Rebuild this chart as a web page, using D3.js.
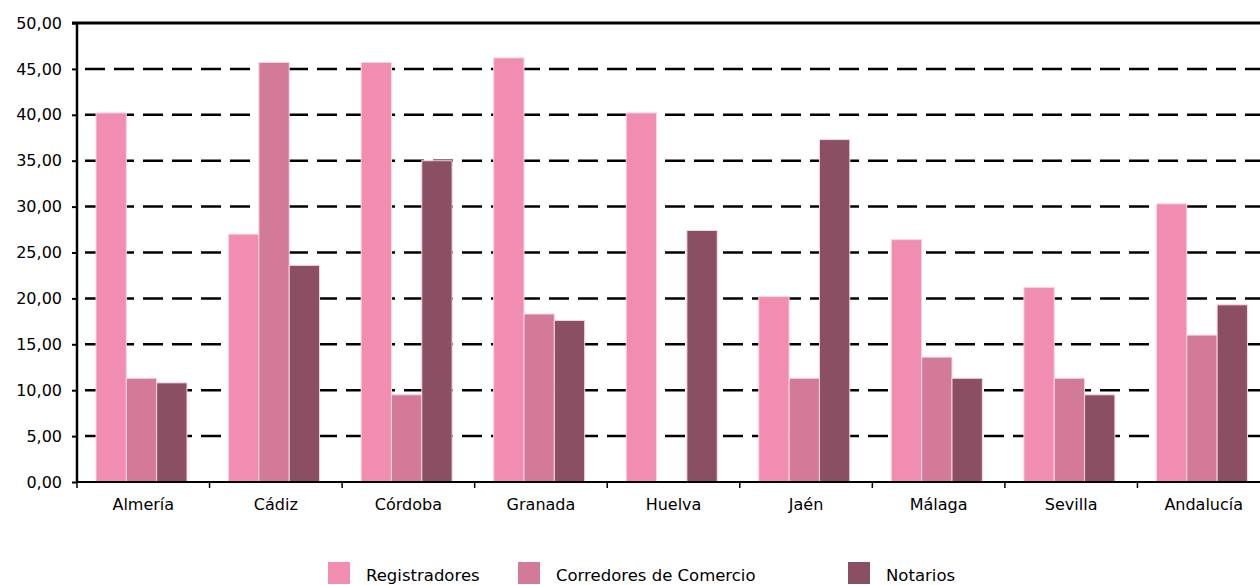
<!DOCTYPE html>
<html>
<head>
<meta charset="utf-8">
<script src="https://cdn.jsdelivr.net/npm/d3@7"></script>
<style>
  body { margin: 0; background: #fff; }
  svg { display: block; font-family: "DejaVu Sans", sans-serif; }
</style>
</head>
<body>
<div id="chart"></div>
<script>
// data
var categories = ["Almería", "Cádiz", "Córdoba", "Granada", "Huelva", "Jaén", "Málaga", "Sevilla", "Andalucía"];
var series = ["Registradores", "Corredores de Comercio", "Notarios"];
var registradores = [40.2, 27.0, 45.7, 46.2, 40.2, 20.2, 26.4, 21.2, 30.3];
var corredores = [11.3, 45.7, 9.5, 18.3, 0, 11.3, 13.6, 11.3, 16.0];
var notarios = [10.8, 23.6, 35.0, 17.6, 27.4, 37.3, 11.3, 9.5, 19.3];
var yTicks = [0, 5, 10, 15, 20, 25, 30, 35, 40, 45, 50];
var colors = ["#f28db2", "#d27a98", "#8a4f63"];

var values = [registradores, corredores, notarios];
var W = 1260, H = 585;
var plotLeft = 77, plotTop = 23, plotBottom = 482, plotRight = 1270;
var fontFam = "'DejaVu Sans', sans-serif";

var svg = d3.select("#chart").append("svg")
    .attr("width", W).attr("height", H);

var x0 = d3.scaleBand().domain(categories).range([plotLeft, plotRight]).padding(0);
var x1 = d3.scaleBand().domain(series).range([19, 110]).padding(0);
var y = d3.scaleLinear().domain([0, 50]).range([plotBottom, plotTop]);

// dashed grid
svg.append("g").selectAll("line")
    .data(yTicks.filter(function(d) { return d > 0 && d < 50; }))
    .enter().append("line")
    .attr("x1", plotLeft).attr("x2", W)
    .attr("y1", function(d) { return y(d); })
    .attr("y2", function(d) { return y(d); })
    .style("stroke", "#000")
    .style("stroke-width", 2.5)
    .style("stroke-dasharray", "20,9")
    .style("stroke-dashoffset", -8);

// bars
var groups = svg.append("g").selectAll("g")
    .data(categories)
    .enter().append("g")
    .attr("transform", function(d) { return "translate(" + x0(d) + ",0)"; });

groups.selectAll("rect")
    .data(function(c, i) {
        return series.map(function(s, j) { return {s: s, v: values[j][i], j: j}; })
            .filter(function(d) { return d.v > 0; });
    })
    .enter().append("rect")
    .attr("x", function(d) { return x1(d.s); })
    .attr("width", x1.bandwidth())
    .attr("y", function(d) { return y(d.v); })
    .attr("height", function(d) { return plotBottom - y(d.v); })
    .style("fill", function(d) { return colors[d.j]; })
    .style("stroke", "#f7d6e2")
    .style("stroke-width", 1);

// y axis
var yAxis = d3.axisLeft(y)
    .tickValues(yTicks)
    .tickSize(5)
    .tickFormat(function(d) { return d3.format(".2f")(d).replace(".", ","); });

var gy = svg.append("g")
    .attr("transform", "translate(" + plotLeft + ",0)")
    .call(yAxis);
gy.select(".domain").remove();
gy.selectAll("line").style("stroke", "#000").style("stroke-width", 2);
gy.selectAll("text")
    .attr("x", -15)
    .style("font-size", "16px")
    .style("fill", "#000")
    .style("font-family", fontFam);

svg.append("line")
    .attr("x1", plotLeft).attr("x2", plotLeft)
    .attr("y1", plotTop - 1).attr("y2", plotBottom + 1)
    .style("stroke", "#000").style("stroke-width", 2.5);

// top border
svg.append("line")
    .attr("x1", plotLeft - 5).attr("x2", W)
    .attr("y1", plotTop).attr("y2", plotTop)
    .style("stroke", "#000").style("stroke-width", 3);

// x axis
var xAxis = d3.axisBottom(x0).tickSize(0).tickPadding(17);
var gx = svg.append("g")
    .attr("transform", "translate(0," + plotBottom + ")")
    .call(xAxis);
gx.select(".domain").remove();
gx.selectAll("text")
    .style("font-size", "16px")
    .style("fill", "#000")
    .style("font-family", fontFam);

svg.append("line")
    .attr("x1", plotLeft).attr("x2", W)
    .attr("y1", plotBottom).attr("y2", plotBottom)
    .style("stroke", "#000").style("stroke-width", 2);

svg.append("g").selectAll("line")
    .data(categories)
    .enter().append("line")
    .attr("x1", function(d) { return x0(d); })
    .attr("x2", function(d) { return x0(d); })
    .attr("y1", plotBottom).attr("y2", plotBottom + 6)
    .style("stroke", "#000").style("stroke-width", 1.5);

// legend
var legendX = [328, 518, 848];
var legend = svg.append("g").selectAll("g")
    .data(series)
    .enter().append("g")
    .attr("transform", function(d, i) { return "translate(" + legendX[i] + ",562)"; });
legend.append("rect")
    .attr("width", 22).attr("height", 22)
    .style("fill", function(d, i) { return colors[i]; });
legend.append("text")
    .attr("x", 38).attr("y", 19)
    .style("font-size", "16.5px")
    .style("fill", "#000")
    .style("font-family", fontFam)
    .text(function(d) { return d; });
</script>
</body>
</html>
